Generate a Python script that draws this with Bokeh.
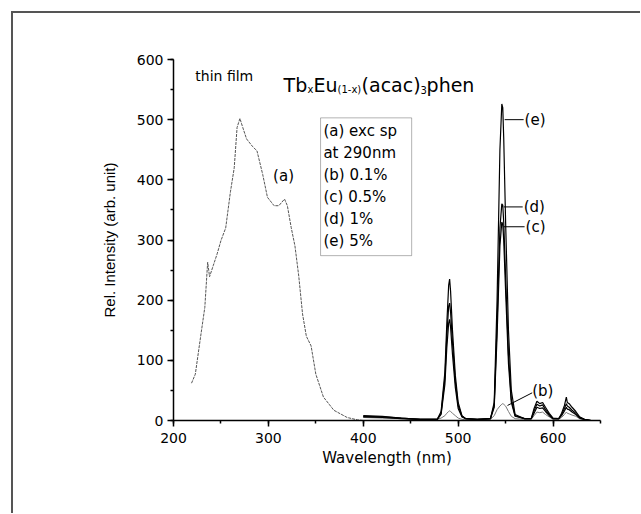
from bokeh.plotting import figure
from bokeh.models import Range1d, SingleIntervalTicker, Label, BoxAnnotation
from bokeh.embed import file_html
from bokeh.resources import INLINE

# ---- data ----
# (a) excitation spectrum
exc_wl = [219, 223, 228, 233, 236, 238, 242, 246, 250, 255, 260, 264, 267, 270,
          273, 277, 283, 288, 294, 299, 306, 311, 317, 320, 324, 328, 332, 336,
          340, 345, 350, 358, 369, 383, 394, 400]
exc_int = [62, 77, 133, 188, 263, 239, 258, 277, 299, 320, 380, 420, 487, 502,
           487, 468, 456, 448, 409, 371, 357, 357, 368, 357, 321, 290, 240, 177,
           140, 124, 77, 39, 17, 5, 1, 0]

# emission spectra (exc. at 290 nm)
em_wl = [400, 420, 440, 460, 478, 482, 486, 488, 490, 491, 492, 494, 497, 500,
         504, 508, 520, 534, 538, 541, 544, 546, 547, 548, 550, 553, 556, 560,
         570, 577, 580, 583, 586, 589, 592, 596, 600, 606, 609, 612, 614, 615,
         617, 620, 624, 628, 633, 640]
em_b = [5, 4, 3, 2, 2, 4, 8, 12, 15, 16, 15, 12, 8, 4, 2, 1, 1, 2, 8, 18, 24, 27,
        28, 27, 24, 15, 7, 3, 2, 2, 8, 14, 13, 14, 10, 6, 2, 2, 5, 10, 14, 12,
        11, 9, 7, 3, 1, 0]
em_c = [6, 5, 3, 2, 2, 10, 60, 120, 162, 168, 155, 110, 55, 20, 6, 3, 2, 3, 22,
        140, 290, 330, 326, 300, 215, 95, 30, 7, 3, 3, 12, 22, 20, 21, 15, 8, 3,
        3, 8, 16, 22, 19, 18, 14, 10, 4, 2, 0]
em_d = [7, 6, 4, 2, 2, 12, 70, 140, 190, 195, 180, 130, 65, 25, 7, 3, 2, 3, 25,
        160, 320, 360, 358, 330, 240, 110, 35, 8, 3, 3, 16, 27, 24, 26, 18, 10,
        3, 3, 10, 20, 28, 24, 22, 17, 12, 5, 2, 0]
em_e = [8, 7, 4, 2, 2, 15, 80, 160, 225, 235, 215, 150, 75, 30, 8, 3, 2, 3, 30,
        200, 450, 526, 520, 470, 330, 150, 50, 10, 3, 3, 20, 32, 28, 30, 22, 12,
        4, 3, 12, 25, 39, 30, 28, 22, 15, 6, 2, 0]

legend_lines = ["(a) exc sp", "at 290nm", "(b) 0.1%", "(c) 0.5%", "(d) 1%", "(e) 5%"]

FONT = "DejaVu Sans"

p = figure(width=640, height=513, output_backend="svg", toolbar_location=None,
           x_range=Range1d(200, 650), y_range=Range1d(0, 600),
           min_border_left=173, min_border_right=40, min_border_top=59,
           min_border_bottom=93)
p.styles = {"background": "linear-gradient(#555555,#555555) 11px 11px / 2px 100% no-repeat, "
                          "linear-gradient(#555555,#555555) 11px 11px / 100% 2px no-repeat"}
p.outline_line_color = None
p.grid.visible = False
p.background_fill_color = "white"
p.border_fill_color = None

for ax in (p.xaxis[0], p.yaxis[0]):
    ax.ticker = SingleIntervalTicker(interval=100, num_minor_ticks=2)
    ax.axis_line_width = 1.5
    ax.axis_line_color = "black"
    ax.major_tick_line_width = 1.5
    ax.major_tick_line_color = "black"
    ax.minor_tick_line_width = 1.5
    ax.minor_tick_line_color = "black"
    ax.major_tick_in = 0
    ax.major_tick_out = 6
    ax.minor_tick_in = 0
    ax.minor_tick_out = 3
    ax.major_label_text_font = FONT
    ax.major_label_text_font_size = "14px"
    ax.major_label_text_color = "black"
    ax.axis_label_text_font = FONT
    ax.axis_label_text_font_size = "15px"
    ax.axis_label_text_font_style = "normal"
    ax.axis_label_text_color = "black"

p.xaxis.axis_label = "Wavelength (nm)"
p.xaxis.major_label_standoff = 6
p.xaxis.axis_label_standoff = 3
p.yaxis.axis_label = "Rel. Intensity (arb. unit)"
p.yaxis.axis_label_text_font = "Liberation Sans"
p.yaxis.major_label_standoff = 4
p.yaxis.axis_label_standoff = 16

# curves
p.line(exc_wl, exc_int, line_color="#555555", line_width=1, line_dash="3 1")
p.line(em_wl, em_b, line_color="#777777", line_width=1)
p.line(em_wl, em_c, line_color="black", line_width=1.2)
p.line(em_wl, em_d, line_color="black", line_width=1.2)
p.line(em_wl, em_e, line_color="black", line_width=1.2)

# curve labels with leader lines
p.segment(x0=[549, 548, 548, 552], y0=[500, 355, 322, 25],
          x1=[569, 568, 570, 578], y1=[500, 355, 322, 46],
          line_color="black", line_width=1)
for txt, x, y in [("(e)", 570, 500), ("(d)", 569, 355), ("(c)", 571, 322), ("(b)", 578, 49)]:
    p.add_layout(Label(x=x, y=y, text=txt, text_font=FONT, text_font_size="15px",
                       text_baseline="middle", text_align="left", text_color="black"))
p.add_layout(Label(x=316, y=407, text="(a)", text_font=FONT, text_font_size="15px",
                   text_baseline="middle", text_align="center", text_color="black"))

# legend box
p.add_layout(BoxAnnotation(left=355, right=451, bottom=274, top=503,
                           fill_color=None, line_color="black", line_width=1))
for i, t in enumerate(legend_lines):
    p.add_layout(Label(x=358, y=481, y_offset=-22 * i, text=t, text_font=FONT,
                       text_font_size="15px", text_baseline="middle",
                       text_align="left", text_color="black"))

# titles
p.add_layout(Label(x=223, y=572, text="thin film", text_font=FONT,
                   text_font_size="14px", text_baseline="middle", text_color="black"))
title_parts = [("Tb", 0, 0, "19px"), ("x", 24, -5, "10px"), ("Eu", 30, 0, "19px"),
               ("(1-x)", 54, -5, "10px"), ("(acac)", 78, 0, "19px"),
               ("3", 137, -5, "10px"), ("phen", 143, 0, "19px")]
for t, dx, dy, fs in title_parts:
    p.add_layout(Label(x=316, y=558, x_offset=dx, y_offset=dy, text=t,
                       text_font=FONT, text_font_size=fs,
                       text_baseline="alphabetic", text_align="left",
                       text_color="black"))

open("out.html", "w").write(file_html(p, INLINE))
